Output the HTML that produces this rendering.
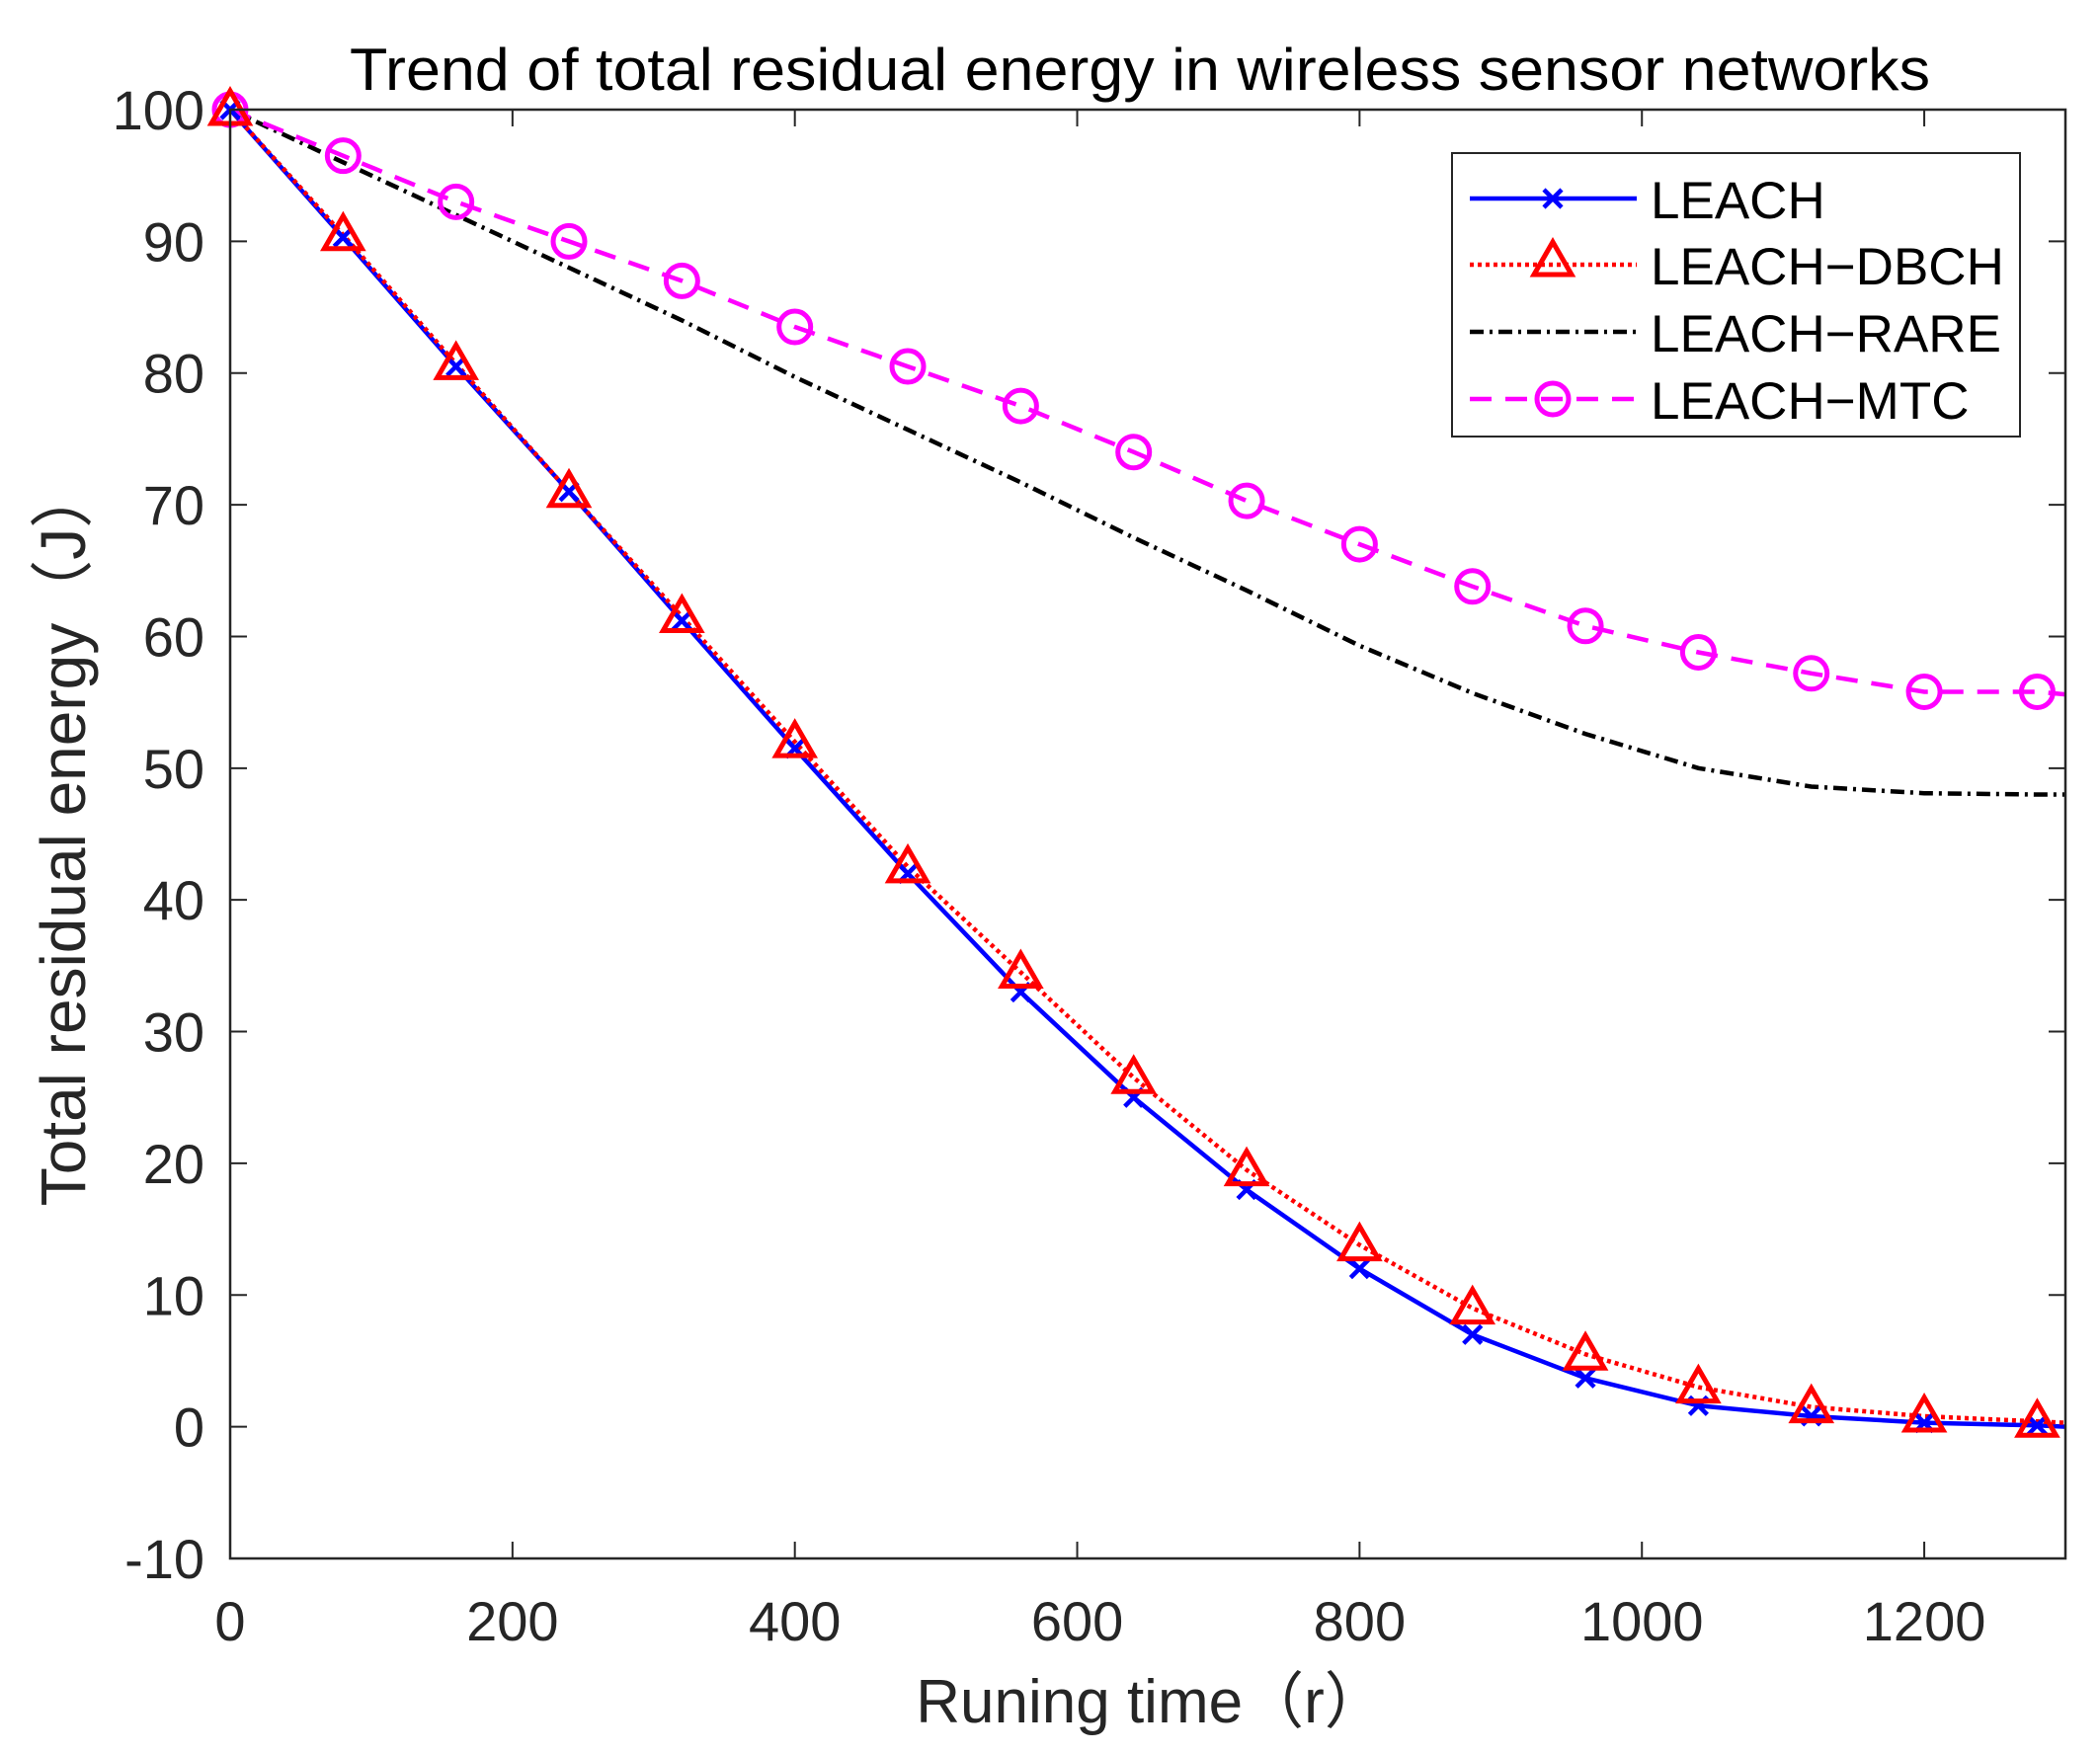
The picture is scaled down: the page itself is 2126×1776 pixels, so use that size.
<!DOCTYPE html>
<html><head><meta charset="utf-8"><style>
html,body{margin:0;padding:0;background:#fff;}
svg{display:block;}
text{font-family:"Liberation Sans",Arial,sans-serif;fill:#262626;}
</style></head><body>
<svg id="s" width="2126" height="1776" viewBox="0 0 2126 1776" xmlns="http://www.w3.org/2000/svg"></svg>
<script>
const L=233,R=2091,T=111,B=1578;
const X=v=>L+(v/1300)*(R-L), Y=v=>T+(100-v)/110*(B-T);
let h='';
h+=`<text x="1154" y="91" font-size="60" text-anchor="middle" fill="#000" style="fill:#000" textLength="1600" lengthAdjust="spacingAndGlyphs">Trend of total residual energy in wireless sensor networks</text>`;
for(let v=0;v<=1200;v+=200){const x=X(v);
 h+=`<line x1="${x}" y1="${B}" x2="${x}" y2="${B-17}" stroke="#262626" stroke-width="2"/>`;
 h+=`<line x1="${x}" y1="${T}" x2="${x}" y2="${T+17}" stroke="#262626" stroke-width="2"/>`;
 h+=`<text x="${x}" y="1661" font-size="56" text-anchor="middle">${v}</text>`;}
for(let v=-10;v<=100;v+=10){const y=Y(v);
 h+=`<line x1="${L}" y1="${y}" x2="${L+17}" y2="${y}" stroke="#262626" stroke-width="2"/>`;
 h+=`<line x1="${R}" y1="${y}" x2="${R-17}" y2="${y}" stroke="#262626" stroke-width="2"/>`;
 h+=`<text x="${L-26}" y="${y+20}" font-size="56" text-anchor="end">${v}</text>`;}
h+=`<text x="1165" y="1744" font-size="62" text-anchor="middle">Runing time（r）</text>`;
h+=`<text transform="translate(86,846) rotate(-90)" font-size="64" text-anchor="middle">Total residual energy（J）</text>`;
const xs=[];for(let i=0;i<=16;i++)xs.push(i*80);
const leach=[100,90.3,80.5,71,61.2,51.5,42,33,25,18,12,7,3.7,1.6,0.8,0.3,0.1];
const dbch=[100,90.5,80.7,71,61.5,52,42.5,34.5,26.5,19.5,13.8,9,5.5,3,1.5,0.8,0.4];
const mtc=[100,96.5,93,90,87,83.5,80.5,77.5,74,70.3,67,63.8,60.8,58.8,57.2,55.8,55.8];
const rare=[100,96,92,88,84,79.7,75.7,71.7,67.5,63.5,59.3,55.7,52.6,50,48.6,48.1,48];
function pts(a,endv){let p=a.map((v,i)=>`${X(xs[i]).toFixed(1)},${Y(v).toFixed(1)}`);p.push(`${R},${Y(endv).toFixed(1)}`);return p.join(' ');}
h+=`<polyline points="${pts(rare,48)}" fill="none" stroke="#000" stroke-width="4.5" stroke-dasharray="14,6,3,6"/>`;
h+=`<polyline points="${pts(mtc,55.6)}" fill="none" stroke="#ff00ff" stroke-width="4.5" stroke-dasharray="22,14"/>`;
h+=`<polyline points="${pts(leach,0)}" fill="none" stroke="#0000ff" stroke-width="4.5"/>`;
h+=`<polyline points="${pts(dbch,0.3)}" fill="none" stroke="#ff0000" stroke-width="4.5" stroke-dasharray="4,4"/>`;
const cross=(x,y)=>`<path d="M${x-9},${y-9}L${x+9},${y+9}M${x-9},${y+9}L${x+9},${y-9}" stroke="#0000ff" stroke-width="4.5"/>`;
const tri=(x,y)=>`<polygon points="${x},${y-19} ${x-19},${y+14} ${x+19},${y+14}" fill="none" stroke="#ff0000" stroke-width="5"/>`;
const circ=(x,y)=>`<circle cx="${x}" cy="${y}" r="16" fill="none" stroke="#ff00ff" stroke-width="5"/>`;
xs.forEach((v,i)=>{h+=circ(X(v),Y(mtc[i]));h+=cross(X(v),Y(leach[i]));h+=tri(X(v),Y(dbch[i]));});
h+=`<rect x="${L}" y="${T}" width="${R-L}" height="${B-T}" fill="none" stroke="#262626" stroke-width="2.5"/>`;
h+=`<rect x="1470" y="155" width="575" height="287" fill="#fff" stroke="#262626" stroke-width="2"/>`;
const ly=[201,268,336,404],names=['LEACH','LEACH−DBCH','LEACH−RARE','LEACH−MTC'];
h+=`<line x1="1488" y1="${ly[0]}" x2="1657" y2="${ly[0]}" stroke="#0000ff" stroke-width="4.5"/>`+cross(1572,ly[0]);
h+=`<line x1="1488" y1="${ly[1]}" x2="1657" y2="${ly[1]}" stroke="#ff0000" stroke-width="4.5" stroke-dasharray="4,4"/>`+tri(1572,ly[1]-4);
h+=`<line x1="1488" y1="${ly[2]}" x2="1657" y2="${ly[2]}" stroke="#000" stroke-width="4.5" stroke-dasharray="14,6,3,6"/>`;
h+=`<line x1="1488" y1="${ly[3]}" x2="1657" y2="${ly[3]}" stroke="#ff00ff" stroke-width="4.5" stroke-dasharray="22,14"/>`+circ(1572,ly[3]);
names.forEach((n,i)=>{h+=`<text x="1671" y="${ly[i]+20}" font-size="53" fill="#000" style="fill:#000">${n}</text>`;});
document.getElementById('s').innerHTML=h;
</script>
</body></html>
